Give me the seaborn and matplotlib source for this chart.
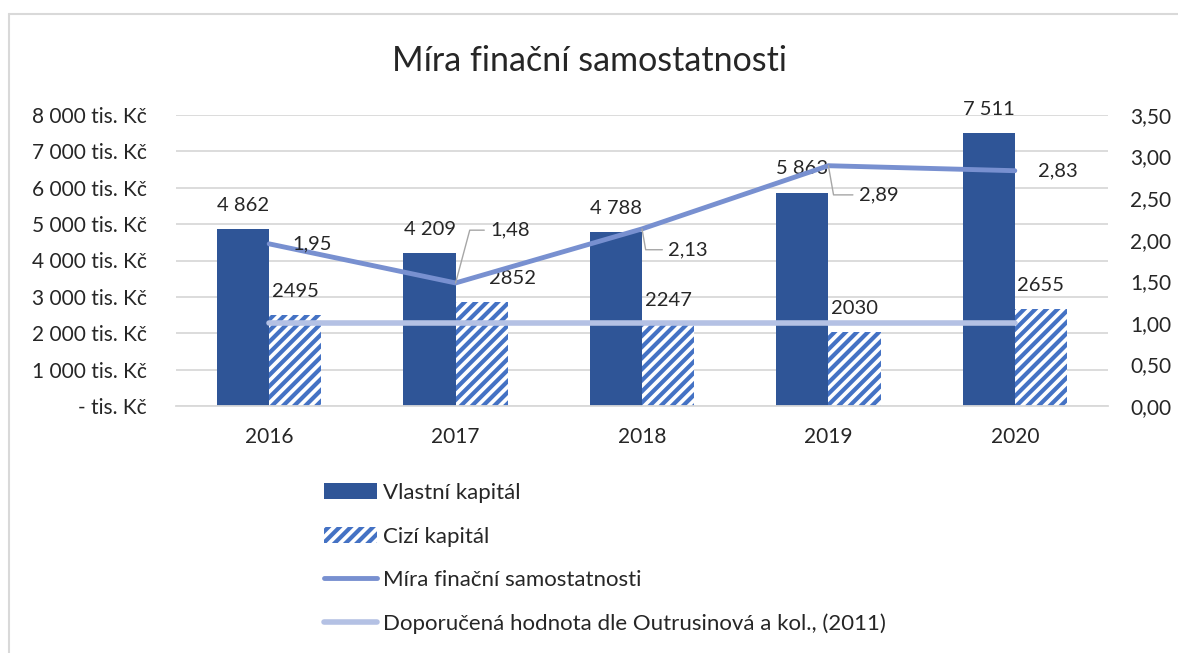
import numpy as np
import pandas as pd
import matplotlib.pyplot as plt
import matplotlib.ticker as mticker
from matplotlib.lines import Line2D
from matplotlib.patches import Patch
import seaborn as sns

# data
years = ["2016", "2017", "2018", "2019", "2020"]
vlastni = [4862, 4209, 4788, 5863, 7511]
cizi = [2495, 2852, 2247, 2030, 2655]
mira = [1.95, 1.48, 2.13, 2.89, 2.83]
doporucena = [1.0, 1.0, 1.0, 1.0, 1.0]

c_vlastni = "#2F5597"
c_cizi = "#4472C4"
c_mira = "#7890D0"
c_dop = "#B4C1E4"
c_grid = "#D9D9D9"

sns.set_theme(style="white")
plt.rcParams["font.family"] = ["Lato", "DejaVu Sans"]
plt.rcParams["hatch.linewidth"] = 3.0
plt.rcParams["hatch.color"] = c_cizi
FS_TICK = 15
FS_LAB = 14.5
FS_LEG = 16
HATCH = "///"

df = pd.DataFrame({
    "rok": years * 2,
    "hodnota": vlastni + cizi,
    "serie": ["Vlastní kapitál"] * 5 + ["Cizí kapitál"] * 5,
})

fig = plt.figure(figsize=(11.78, 6.53), dpi=100)
ax = fig.add_axes([176 / 1178, 1 - 406 / 653, 932 / 1178, 291 / 653])

sns.barplot(data=df, x="rok", y="hodnota", hue="serie",
            palette=[c_vlastni, "white"], width=0.56, gap=0,
            ax=ax, legend=False, saturation=1)

# hatch the second series
n = len(years)
for i, p in enumerate(ax.patches):
    p.set_linewidth(0)
    if i >= n:
        p.set_hatch(HATCH)
        p.set_edgecolor(c_cizi)

ax.set_ylim(0, 8000)
ax.set_yticks(np.arange(0, 8001, 1000))


def lab_left(v, pos):
    if v == 0:
        return "- tis. Kč"
    return f"{int(v):,} tis. Kč".replace(",", " ")


ax.yaxis.set_major_formatter(mticker.FuncFormatter(lab_left))
ax.yaxis.grid(True, color=c_grid, linewidth=1.3)
ax.set_axisbelow(True)
for s in ["top", "right", "left"]:
    ax.spines[s].set_visible(False)
ax.spines["bottom"].set_color(c_grid)
ax.spines["bottom"].set_linewidth(1.3)
ax.tick_params(axis="y", length=0, pad=21, labelsize=FS_TICK)
ax.tick_params(axis="x", length=0, pad=15, labelsize=FS_TICK)
ax.set_xlabel("")
ax.set_ylabel("")

# bar value labels (the 2017 foreign capital label is nudged right, as in the original)
bar_dx = [0] * n + [0, 22, 0, 0, 0]
for i, p in enumerate(ax.patches[:2 * n]):
    v = p.get_height()
    if i < n:
        txt = f"{int(v):,}".replace(",", " ")
    else:
        txt = f"{int(v)}"
    ax.annotate(txt, (p.get_x() + p.get_width() / 2, v),
                xytext=(bar_dx[i], 11), textcoords="offset points",
                ha="center", va="bottom", fontsize=FS_LAB)

# right axis with the ratio lines
ax2 = ax.twinx()
sns.pointplot(x=years, y=doporucena, ax=ax2, color=c_dop, marker="",
              linewidth=4, errorbar=None)
sns.pointplot(x=years, y=mira, ax=ax2, color=c_mira, marker="",
              linewidth=3.5, errorbar=None)
ax2.set_ylim(0, 3.5)
ax2.set_yticks(np.arange(0, 3.51, 0.5))
ax2.yaxis.set_major_formatter(mticker.FuncFormatter(lambda v, p: f"{v:.2f}".replace(".", ",")))
ax2.tick_params(axis="y", length=0, pad=16, labelsize=FS_TICK)
ax2.set_xlabel("")
ax2.set_ylabel("")
for s in ax2.spines.values():
    s.set_visible(False)
ax2.grid(False)

# ratio labels (offset in points, some with leader lines)
offsets = [(17, 0), (25, 38), (19, -15), (22, -21), (17, 0)]
leaders = [False, True, True, True, False]
for i, v in enumerate(mira):
    txt = f"{v:.2f}".replace(".", ",")
    if leaders[i]:
        ax2.annotate(txt, (i, v), xytext=offsets[i], textcoords="offset points",
                     ha="left", va="center", fontsize=FS_LAB,
                     arrowprops=dict(arrowstyle="-", color="#A6A6A6", lw=1,
                                     shrinkA=2, shrinkB=0,
                                     connectionstyle="angle,angleA=0,angleB=%d,rad=0"
                                     % (75 if offsets[i][1] > 0 else -80)))
    else:
        ax2.annotate(txt, (i, v), xytext=offsets[i], textcoords="offset points",
                     ha="left", va="center", fontsize=FS_LAB)

fig.suptitle("Míra finační samostatnosti", y=1 - 61 / 653, va="center", fontsize=24.5)

handles = [
    Patch(facecolor=c_vlastni, edgecolor="none"),
    Patch(facecolor="white", edgecolor=c_cizi, hatch=HATCH, linewidth=0),
    Line2D([0], [0], color=c_mira, lw=3.5, solid_capstyle="round"),
    Line2D([0], [0], color=c_dop, lw=4, solid_capstyle="round"),
]
labels = ["Vlastní kapitál", "Cizí kapitál", "Míra finační samostatnosti",
          "Doporučená hodnota dle Outrusinová a kol., (2011)"]
fig.legend(handles, labels, loc="upper left", bbox_to_anchor=(304 / 1178, 1 - 463 / 653),
           frameon=False, fontsize=FS_LEG, labelspacing=1.06, handlelength=2.4,
           handletextpad=0.25)

# chart border (left and top)
fig.add_artist(Line2D([9 / 1178, 9 / 1178], [0, 1 - 14 / 653], color="#D9D9D9", lw=1.5,
                      transform=fig.transFigure))
fig.add_artist(Line2D([9 / 1178, 1], [1 - 14 / 653, 1 - 14 / 653], color="#D9D9D9", lw=1.5,
                      transform=fig.transFigure))

fig.savefig("out.png", dpi=100)
